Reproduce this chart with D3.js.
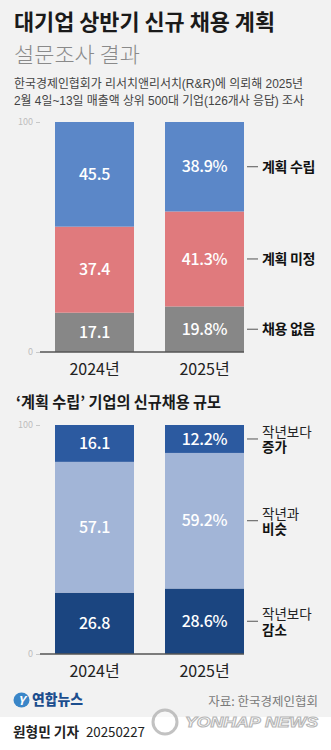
<!DOCTYPE html>
<html><head><meta charset="utf-8">
<script src="https://cdn.jsdelivr.net/npm/d3@7"></script>
<style>
html,body{margin:0;padding:0;background:#f2f2f2;}
svg{display:block;font-family:"Noto Sans CJK KR","Noto Sans",sans-serif;}
</style></head>
<body><svg id="c" width="331" height="750"></svg>
<script>
// ---- data ----
const years = ["2024년", "2025년"];
const planCats = ["계획 수립", "계획 미정", "채용 없음"];   // top -> bottom
const planned = [45.5, 38.9];
const undecided = [37.4, 41.3];
const noHire = [17.1, 19.8];
const scaleCats = [["작년보다", "증가"], ["작년과", "비슷"], ["작년보다", "감소"]]; // top -> bottom
const increase = [16.1, 12.2];
const similar = [57.1, 59.2];
const decrease = [26.8, 28.6];
const tickValues = [0, 100];

const svg = d3.select("#c");
svg.append("rect").attr("width", 331).attr("height", 750).attr("fill", "#f2f2f2");
svg.append("rect").attr("x", 0).attr("y", 717).attr("width", 331).attr("height", 33).attr("fill", "#ffffff");

const tightFF = "'Liberation Sans','Noto Sans CJK KR',sans-serif";

// titles
svg.append("text").attr("x", 14).attr("y", 30).attr("font-size", 22).attr("font-weight", 700)
  .attr("fill", "#1a1a1a").attr("textLength", 261).attr("lengthAdjust", "spacingAndGlyphs")
  .text("대기업 상반기 신규 채용 계획");
svg.append("text").attr("x", 14).attr("y", 62).attr("font-size", 21).attr("font-weight", 300)
  .attr("fill", "#8a8a8a").attr("textLength", 126).attr("lengthAdjust", "spacingAndGlyphs")
  .text("설문조사 결과");
svg.append("text").attr("x", 14).attr("y", 88).attr("font-size", 12.5).attr("fill", "#444")
  .attr("font-family", tightFF)
  .attr("textLength", 289).attr("lengthAdjust", "spacingAndGlyphs")
  .text("한국경제인협회가 리서치앤리서치(R&R)에 의뢰해 2025년");
svg.append("text").attr("x", 14).attr("y", 105).attr("font-size", 12.5).attr("fill", "#444")
  .attr("font-family", tightFF)
  .attr("textLength", 290).attr("lengthAdjust", "spacingAndGlyphs")
  .text("2월 4일~13일 매출액 상위 500대 기업(126개사 응답) 조사");

const x = d3.scaleBand().domain(years).range([55, 244]).paddingInner(31 / 110).paddingOuter(0);

function drawChart(top, bottom, seriesList, colors, labels, twoLine) {
  const y = d3.scaleLinear().domain([0, 100]).range([bottom, top]);
  const g = svg.append("g");
  const ax = g.append("g").attr("transform", "translate(40,0)")
    .call(d3.axisLeft(y).tickValues(tickValues).tickSize(4).tickPadding(3));
  ax.select(".domain").remove();
  ax.selectAll("line").attr("stroke", "#c8c8c8");
  ax.selectAll("text").attr("fill", "#bdbdbd").attr("font-size", 9)
    .attr("font-family", "'Noto Sans CJK KR',sans-serif");
  const order = seriesList.slice().reverse();
  const colOrder = colors.slice().reverse();
  years.forEach((yr, i) => {
    let acc = 0;
    order.forEach((s, k) => {
      const v = s[i];
      const y0 = y(acc), y1 = y(acc + v);
      g.append("rect").attr("x", x(yr)).attr("width", x.bandwidth())
        .attr("y", y1).attr("height", y0 - y1).attr("fill", colOrder[k]);
      g.append("text").attr("x", x(yr) + x.bandwidth() / 2).attr("y", (y0 + y1) / 2)
        .attr("dy", "0.36em").attr("text-anchor", "middle").attr("font-size", 16)
        .attr("font-weight", 500).attr("fill", "#fff").attr("letter-spacing", -0.3)
        .text(i === 1 ? d3.format(".1f")(v) + "%" : d3.format(".1f")(v));
      acc += v;
    });
  });
  g.append("line").attr("x1", 40).attr("x2", 244).attr("y1", y(0)).attr("y2", y(0))
    .attr("stroke", "#555").attr("stroke-width", 1.3);
  let acc = 0;
  const last = years.length - 1;
  const centers = [];
  order.forEach(s => { centers.push(y(acc + s[last] / 2)); acc += s[last]; });
  centers.reverse();
  labels.forEach((lab, k) => {
    const cy = centers[k];
    g.append("line").attr("x1", 247).attr("x2", 258).attr("y1", cy).attr("y2", cy)
      .attr("stroke", "#555").attr("stroke-width", 1);
    if (twoLine) {
      g.append("text").attr("x", 262).attr("y", cy - 2).attr("font-size", 13.5)
        .attr("font-family", tightFF).attr("fill", "#222").text(lab[0]);
      g.append("text").attr("x", 262).attr("y", cy + 13.5).attr("font-size", 13.5)
        .attr("font-family", tightFF).attr("font-weight", 700).attr("fill", "#111").text(lab[1]);
    } else {
      g.append("text").attr("x", 262).attr("y", cy).attr("dy", "0.36em").attr("font-size", 14)
        .attr("font-weight", 700).attr("fill", "#111").attr("letter-spacing", -0.3).text(lab);
    }
  });
  years.forEach(yr => {
    g.append("text").attr("x", x(yr) + x.bandwidth() / 2).attr("y", y(0) + 17).attr("dy", "0.36em")
      .attr("text-anchor", "middle").attr("font-size", 16).attr("fill", "#222").text(yr);
  });
}

drawChart(122, 352, [planned, undecided, noHire], ["#5b87c8", "#e07a7d", "#878787"], planCats, false);

svg.append("text").attr("x", 16).attr("y", 408).attr("font-size", 15.5).attr("font-weight", 700)
  .attr("fill", "#1a1a1a").attr("textLength", 205).attr("lengthAdjust", "spacingAndGlyphs")
  .text("‘계획 수립’ 기업의 신규채용 규모");

drawChart(425, 654, [increase, similar, decrease], ["#2c5aa0", "#a2b5d7", "#1b4580"], scaleCats, true);

// footer
const lg = svg.append("g");
lg.append("ellipse").attr("cx", 21.5).attr("cy", 700).attr("rx", 8).attr("ry", 7.5).attr("fill", "#3a86c8");
lg.append("text").attr("x", 21.5).attr("y", 704.5).attr("text-anchor", "middle").attr("font-size", 12)
  .attr("font-style", "italic").attr("font-weight", 700).attr("fill", "#fff").text("Y");
lg.append("text").attr("x", 32).attr("y", 705).attr("font-size", 14.5).attr("font-weight", 900)
  .attr("fill", "#1c4e8e").attr("textLength", 51).attr("lengthAdjust", "spacingAndGlyphs").text("연합뉴스");
svg.append("text").attr("x", 318).attr("y", 706).attr("text-anchor", "end").attr("font-size", 12.5)
  .attr("fill", "#7a7a7a").text("자료: 한국경제인협회");
// watermark
svg.append("circle").attr("cx", 165).attr("cy", 722).attr("r", 12).attr("fill", "#ffffff")
  .attr("fill-opacity", 0.6).attr("stroke", "#b8b8b8").attr("stroke-width", 3).attr("opacity", 0.85);
svg.append("text").attr("x", 185).attr("y", 727).attr("font-size", 14)
  .attr("font-weight", 900).attr("font-style", "italic").attr("fill", "#ffffff").attr("stroke", "#b0b0b0")
  .attr("stroke-width", 1).attr("opacity", 0.9).attr("font-family", "'Liberation Sans',sans-serif")
  .attr("textLength", 133).attr("lengthAdjust", "spacingAndGlyphs")
  .text("YONHAP NEWS");
svg.append("text").attr("x", 13).attr("y", 737).attr("font-size", 14).attr("font-weight", 700)
  .attr("fill", "#222").attr("textLength", 66).attr("lengthAdjust", "spacingAndGlyphs").text("원형민 기자");
svg.append("text").attr("x", 86).attr("y", 737).attr("font-size", 13.5)
  .attr("fill", "#222").attr("textLength", 59).attr("lengthAdjust", "spacingAndGlyphs").text("20250227");
</script></body></html>
